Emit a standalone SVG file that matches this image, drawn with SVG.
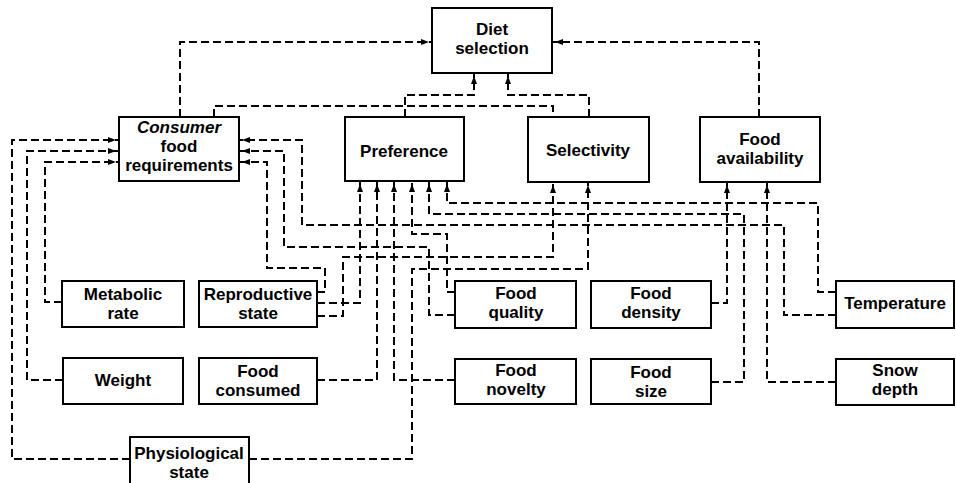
<svg xmlns="http://www.w3.org/2000/svg" width="956" height="483" viewBox="0 0 956 483">
<style>
.box{fill:#fff;stroke:#000;stroke-width:2}
.t{font-family:"Liberation Sans",Arial,sans-serif;font-size:17px;font-weight:bold;text-anchor:middle;fill:#000}
.i{font-style:italic}
.c{fill:none;stroke:#000;stroke-width:2;stroke-dasharray:8 4}
.a{marker-end:url(#ah)}
</style>
<defs>
<marker id="ah" markerUnits="userSpaceOnUse" markerWidth="20" markerHeight="10" refX="11" refY="3" orient="auto" overflow="visible">
<path d="M0,0 L8,3 L0,6 z" fill="#000"/>
</marker>
</defs>
<rect width="956" height="483" fill="#fff"/>
<g id="connectors">
<path class="c a" d="M180,117 V42 H432"/>
<path class="c a" d="M759,117 V42 H552"/>
<path class="c a" d="M405,117 V95 H474 V73"/>
<path class="c a" d="M589,117 V95 H508 V73"/>
<path class="c" d="M214,117 V106 H553 V117"/>
<path class="c a" d="M130,459 H12 V140 H119"/>
<path class="c a" d="M63,380 H27 V151 H119"/>
<path class="c a" d="M62,302 H45 V162 H119"/>
<path class="c a" d="M836,315 H784 V225 H302 V140 H239"/>
<path class="c a" d="M455,315 H429 V247 H284 V151 H239"/>
<path class="c a" d="M317,292 H325 V268 H267 V162 H239"/>
<path class="c a" d="M317,303 H360 V181"/>
<path class="c a" d="M317,316 H343 V257 H553 V182"/>
<path class="c a" d="M317,380 H377 V181"/>
<path class="c a" d="M455,380 H394 V181"/>
<path class="c a" d="M249,459 H412 V269 H588 V182"/>
<path class="c a" d="M455,292 H447 V234 H412 V181"/>
<path class="c a" d="M836,292 H818 V203 H447 V181"/>
<path class="c a" d="M711,382 H744 V214 H429 V181"/>
<path class="c a" d="M711,303 H727 V182"/>
<path class="c a" d="M836,382 H767 V182"/>
</g>
<g id="diet-selection"><rect class="box" x="432" y="8" width="120" height="65"/><text class="t" x="492" y="35">Diet</text><text class="t" x="492" y="54">selection</text></g>
<g id="consumer-food-requirements"><rect class="box" x="119" y="117" width="120" height="64"/><text class="t i" x="179" y="133">Consumer</text><text class="t" x="179" y="152">food</text><text class="t" x="179" y="171">requirements</text></g>
<g id="preference"><rect class="box" x="345" y="117" width="119" height="64"/><text class="t" x="404" y="157">Preference</text></g>
<g id="selectivity"><rect class="box" x="528" y="117" width="121" height="65"/><text class="t" x="588" y="156">Selectivity</text></g>
<g id="food-availability"><rect class="box" x="700" y="117" width="120" height="65"/><text class="t" x="760" y="145">Food</text><text class="t" x="760" y="164">availability</text></g>
<g id="metabolic-rate"><rect class="box" x="62" y="281" width="122" height="46"/><text class="t" x="123" y="300">Metabolic</text><text class="t" x="123" y="319">rate</text></g>
<g id="reproductive-state"><rect class="box" x="199" y="281" width="118" height="46"/><text class="t" x="258" y="300">Reproductive</text><text class="t" x="258" y="319">state</text></g>
<g id="food-quality"><rect class="box" x="455" y="281" width="121" height="47"/><text class="t" x="516" y="299">Food</text><text class="t" x="516" y="318">quality</text></g>
<g id="food-density"><rect class="box" x="591" y="281" width="120" height="47"/><text class="t" x="651" y="299">Food</text><text class="t" x="651" y="318">density</text></g>
<g id="temperature"><rect class="box" x="836" y="281" width="118" height="47"/><text class="t" x="895" y="309">Temperature</text></g>
<g id="weight"><rect class="box" x="63" y="358" width="120" height="46"/><text class="t" x="123" y="386">Weight</text></g>
<g id="food-consumed"><rect class="box" x="199" y="358" width="118" height="46"/><text class="t" x="258" y="377">Food</text><text class="t" x="258" y="396">consumed</text></g>
<g id="food-novelty"><rect class="box" x="455" y="359" width="121" height="45"/><text class="t" x="516" y="376">Food</text><text class="t" x="516" y="395">novelty</text></g>
<g id="food-size"><rect class="box" x="591" y="359" width="120" height="45"/><text class="t" x="651" y="378">Food</text><text class="t" x="651" y="397">size</text></g>
<g id="snow-depth"><rect class="box" x="836" y="359" width="118" height="46"/><text class="t" x="895" y="376">Snow</text><text class="t" x="895" y="395">depth</text></g>
<g id="physiological-state"><rect class="box" x="130" y="437" width="119" height="52"/><text class="t" x="189" y="459">Physiological</text><text class="t" x="189" y="478">state</text></g>
</svg>
